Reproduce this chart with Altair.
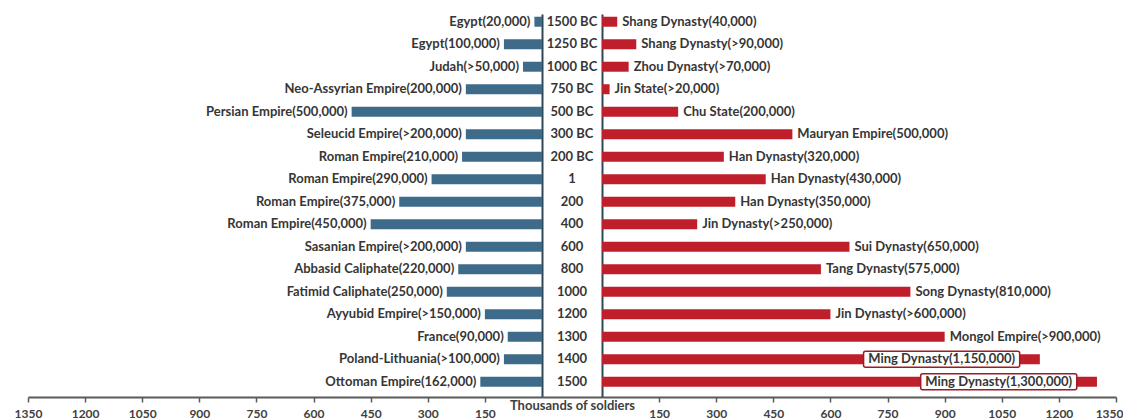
import altair as alt
import pandas as pd

years = ["1500 BC", "1250 BC", "1000 BC", "750 BC", "500 BC", "300 BC", "200 BC",
         "1", "200", "400", "600", "800", "1000", "1200", "1300", "1400", "1500"]

west_labels = ["Egypt(20,000)", "Egypt(100,000)", "Judah(>50,000)",
               "Neo-Assyrian Empire(200,000)", "Persian Empire(500,000)",
               "Seleucid Empire(>200,000)", "Roman Empire(210,000)",
               "Roman Empire(290,000)", "Roman Empire(375,000)",
               "Roman Empire(450,000)", "Sasanian Empire(>200,000)",
               "Abbasid Caliphate(220,000)", "Fatimid Caliphate(250,000)",
               "Ayyubid Empire(>150,000)", "France(90,000)",
               "Poland-Lithuania(>100,000)", "Ottoman Empire(162,000)"]
west_values = [20, 100, 50, 200, 500, 200, 210, 290, 375, 450, 200, 220, 250,
               150, 90, 100, 162]

east_labels = ["Shang Dynasty(40,000)", "Shang Dynasty(>90,000)",
               "Zhou Dynasty(>70,000)", "Jin State(>20,000)", "Chu State(200,000)",
               "Mauryan Empire(500,000)", "Han Dynasty(320,000)",
               "Han Dynasty(430,000)", "Han Dynasty(350,000)",
               "Jin Dynasty(>250,000)", "Sui Dynasty(650,000)",
               "Tang Dynasty(575,000)", "Song Dynasty(810,000)",
               "Jin Dynasty(>600,000)", "Mongol Empire(>900,000)",
               "Ming Dynasty(1,150,000)", "Ming Dynasty(1,300,000)"]
east_values = [40, 90, 70, 20, 200, 500, 320, 430, 350, 250, 650, 575, 810,
               600, 900, 1150, 1300]
east_boxed = [False] * 15 + [True, True]

tick_values = [150, 300, 450, 600, 750, 900, 1050, 1200, 1350]
axis_title = "Thousands of soldiers"

FONT = "Lato"
TXT = "#363636"
BLUE = "#3e6b89"
RED = "#bf1f2b"
VLINE = "#2f4858"
AXC = "#5a5a5a"
FS = 13

west = pd.DataFrame({"year": years, "label": west_labels, "value": west_values})
east = pd.DataFrame({"year": years, "label": east_labels, "value": east_values,
                     "boxed": east_boxed})
center = pd.DataFrame({"year": years})

H = 383
W_LEFT = 514
W_MID = 60
W_RIGHT = 514


def yscale():
    return alt.Scale(type="band", domain=years, paddingInner=0.556,
                     paddingOuter=0.289, align=0.21)


def xaxis(flush):
    kw = dict(values=tick_values, title=None, grid=False, domainColor=AXC,
              domainWidth=2, tickColor=AXC, tickWidth=1.5, tickSize=5,
              labelFont=FONT, labelFontSize=12, labelFontWeight="bold",
              labelColor="#404040", labelPadding=6, format="d")
    if flush:
        kw.update(labelFlush=True, labelFlushOffset=7)
    else:
        kw.update(labelFlush=False)
    return alt.Axis(**kw)


# Left panel (west)
left_base = alt.Chart(west).encode(
    y=alt.Y("year:N", scale=yscale(),
            axis=alt.Axis(orient="right", labels=False, ticks=False, domain=True,
                          domainColor=VLINE, domainWidth=2, title=None, grid=False)),
    x=alt.X("value:Q", scale=alt.Scale(domain=[0, 1350], reverse=True, nice=False),
            axis=xaxis(False)),
)
left = alt.layer(
    left_base.mark_bar(color=BLUE),
    left_base.mark_text(align="right", dx=-4, font=FONT, fontSize=FS,
                        fontWeight="bold", color=TXT).encode(text="label:N"),
).properties(width=W_LEFT, height=H)

# Center panel (years)
mid = alt.Chart(center).transform_calculate(mid="0").mark_text(
    font=FONT, fontSize=FS, fontWeight="bold", color=TXT
).encode(
    x=alt.X("mid:Q", scale=alt.Scale(domain=[-1, 1]),
            axis=alt.Axis(labels=False, ticks=False, grid=False, domainColor=AXC,
                          domainWidth=2, title=axis_title, titleFont=FONT,
                          titleFontSize=FS, titleFontWeight="bold",
                          titleColor="#404040", titlePadding=2, titleLimit=300)),
    y=alt.Y("year:N", scale=yscale(), axis=None),
    text="year:N",
).properties(width=W_MID, height=H)

# Right panel (east)
right_base = alt.Chart(east).encode(
    y=alt.Y("year:N", scale=yscale(),
            axis=alt.Axis(orient="left", labels=False, ticks=False, domain=True,
                          domainColor=VLINE, domainWidth=2, title=None, grid=False)),
)
right_x = alt.Scale(domain=[0, 1350], nice=False)
right = alt.layer(
    right_base.mark_bar(color=RED).encode(
        x=alt.X("value:Q", scale=right_x, axis=xaxis(True))),
    right_base.transform_filter("!datum.boxed").mark_text(
        align="left", dx=5, font=FONT, fontSize=FS, fontWeight="bold", color=TXT
    ).encode(x="value:Q", text="label:N"),
    right_base.transform_filter("datum.boxed").transform_calculate(
        bx1="datum.value - 463", bx2="datum.value - 53"
    ).mark_bar(size=16, fill="white", stroke="#9b1c22", strokeWidth=1.5,
               cornerRadius=2).encode(x="bx1:Q", x2="bx2:Q"),
    right_base.transform_filter("datum.boxed").transform_calculate(
        mx="datum.value - 258"
    ).mark_text(align="center", font=FONT, fontSize=FS, fontWeight="bold",
                color=TXT).encode(x="mx:Q", text="label:N"),
).properties(width=W_RIGHT, height=H)

chart = alt.hconcat(left, mid, right, spacing=0, bounds="flush").properties(
    padding={"left": 6, "top": 6, "right": 0, "bottom": 0}
).configure_view(stroke=None)

chart.save("out.html", embed_options={"renderer": "svg", "actions": False})
